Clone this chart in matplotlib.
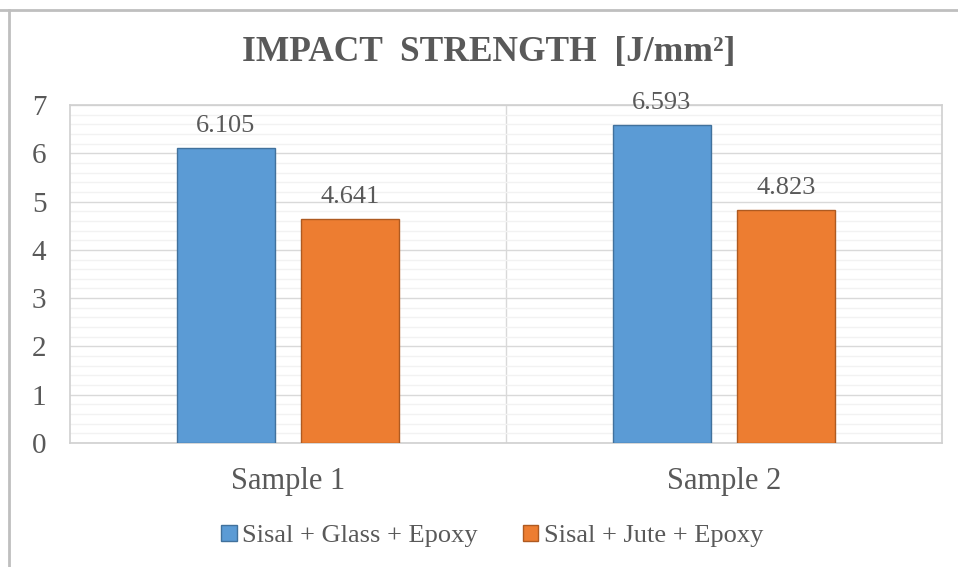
import numpy as np
import matplotlib.pyplot as plt
from matplotlib.lines import Line2D

# データ
categories = ["Sample 1", "Sample 2"]
series_names = ["Sisal + Glass + Epoxy", "Sisal + Jute + Epoxy"]
glass_vals = [6.105, 6.593]
jute_vals = [4.641, 4.823]

text_col = "#595959"
plt.rcParams['font.family'] = ['Liberation Serif', 'DejaVu Serif']

fig = plt.figure(figsize=(9.58, 5.67), dpi=100)
ax = fig.add_axes([70 / 958, 1 - 443 / 567, 872 / 958, 338 / 567])

x = np.arange(len(categories))
w = 0.225
off = 0.143
b1 = ax.bar(x - off, glass_vals, w, color="#5B9BD5", edgecolor="#41719C", linewidth=1, label=series_names[0], zorder=3)
b2 = ax.bar(x + off, jute_vals, w, color="#ED7D31", edgecolor="#AE5A21", linewidth=1, label=series_names[1], zorder=3)

for bars, vals in ((b1, glass_vals), (b2, jute_vals)):
    for rect, v in zip(bars, vals):
        ax.annotate(f"{v:.3f}", (rect.get_x() + rect.get_width() / 2, v),
                    xytext=(0, 8), textcoords="offset points",
                    ha="center", va="bottom", fontsize=19, color=text_col)

ax.set_xlim(-0.5, 1.5)
ax.set_ylim(0, 7)
ax.set_yticks(range(8))
ax.set_yticks(np.arange(0, 7.01, 0.2), minor=True)
ax.set_xticks(x)
ax.set_xticklabels(categories, fontsize=22, color=text_col)
ax.tick_params(axis="y", which="both", length=0, labelsize=21, labelcolor=text_col, pad=17)
ax.tick_params(axis="x", length=0, pad=17)

ax.grid(axis="y", which="minor", color="#F2F2F2", linewidth=1, zorder=0)
ax.grid(axis="y", which="major", color="#D9D9D9", linewidth=1, zorder=1)
ax.axvline(0.5, color="#D9D9D9", linewidth=1, zorder=1)
for s in ax.spines.values():
    s.set_color("#D0D0D0")
    s.set_linewidth(1.2)

fig.text(489 / 958, 1 - 52 / 567, "IMPACT  STRENGTH  [J/mm²]", ha="center", va="center",
         fontsize=25.5, fontweight="bold", color=text_col)

handles = [plt.Rectangle((0, 0), 1, 1, facecolor="#5B9BD5", edgecolor="#41719C"),
           plt.Rectangle((0, 0), 1, 1, facecolor="#ED7D31", edgecolor="#AE5A21")]
fig.legend(handles, series_names, loc="center", bbox_to_anchor=(492 / 958, 1 - 536 / 567),
           ncol=2, frameon=False, fontsize=19, handlelength=0.6, handleheight=0.6,
           handletextpad=0.2, columnspacing=1.7, labelcolor=text_col)

# 外枠
fig.add_artist(Line2D([0, 1], [1 - 10 / 567] * 2, color="#BFBFBF", linewidth=2, transform=fig.transFigure))
fig.add_artist(Line2D([9 / 958] * 2, [0, 1 - 10 / 567], color="#BFBFBF", linewidth=2, transform=fig.transFigure))

fig.savefig("out.png", dpi=100)
